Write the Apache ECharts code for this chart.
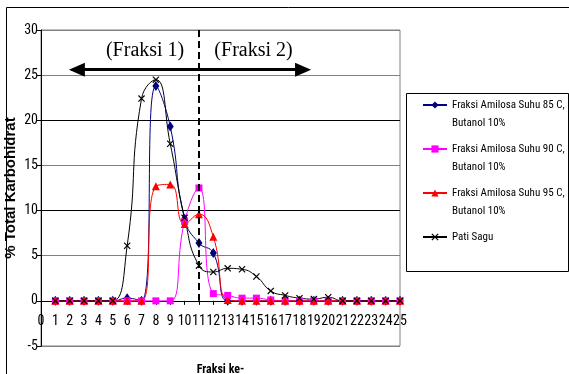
<!DOCTYPE html>
<html>
<head>
<meta charset="utf-8">
<script src="https://cdn.jsdelivr.net/npm/echarts@6/dist/echarts.min.js"></script>
<style>
  html, body { margin: 0; padding: 0; background: #fff; }
  #chart { width: 569px; height: 374px; }
</style>
</head>
<body>
<div id="chart"></div>
<script>
// Fraction number (x axis)
const fraksi = [1, 2, 3, 4, 5, 6, 7, 8, 9, 10, 11, 12, 13, 14, 15, 16, 17, 18, 19, 20, 21, 22, 23, 24, 25];

// % total carbohydrate per fraction
const amilosa85 = [0, 0, 0, 0, 0, 0.3, 0, 23.8, 19.3, 9.1, 6.4, 5.3, 0, 0, 0, 0, 0, 0, 0, 0, 0, 0, 0, 0, 0];
const amilosa90 = [0, 0, 0, 0, 0, 0, 0, 0, 0, 8.8, 12.5, 0.8, 0.6, 0.3, 0.3, 0.1, 0, 0, 0, 0, 0, 0, 0, 0, 0];
const amilosa95 = [0, 0, 0, 0, 0, 0, 0, 12.7, 12.9, 8.5, 9.6, 7.1, 0.1, 0, 0, 0, 0, 0, 0, 0, 0, 0, 0, 0, 0];
const patiSagu  = [0, 0, 0, 0, 0, 6.1, 22.4, 24.5, 17.4, 9.2, 3.9, 3.2, 3.6, 3.5, 2.7, 1.1, 0.6, 0.3, 0.2, 0.4, 0, 0, 0, 0, 0];

const seriesNames = [
  'Fraksi Amilosa Suhu 85 C, Butanol 10%',
  'Fraksi Amilosa Suhu 90 C, Butanol 10%',
  'Fraksi Amilosa Suhu 95 C, Butanol 10%',
  'Pati Sagu'
];
// Legend text: the blank first line keeps the key symbol beside the first text line
const legendLines = [
  '\nFraksi Amilosa Suhu 85 C,\nButanol 10%',
  '\nFraksi Amilosa Suhu 90 C,\nButanol 10%',
  '\nFraksi Amilosa Suhu 95 C,\nButanol 10%',
  '\nPati Sagu\n '
];

// Axis ranges
const xRange = [0, 25, 1];
const yRange = [-5, 30, 5];

// Fraction boundary and range annotations (data units)
const boundaryX = 11;
const boundaryTop = 30;
const arrowY = 25.6;
const arrowFrom = 2.5;
const arrowTo = 18.25;
const fraksiLabels = [
  { text: '(Fraksi 1)', x: 7.25, y: 27.65 },
  { text: '(Fraksi 2)', x: 14.8, y: 27.65 }
];

// Plot frame (pixels)
const W = 569, H = 374;
const gridBox = { left: 41, right: 169, top: 30, bottom: 28 };
const plotH = H - gridBox.top - gridBox.bottom;
// the x axis runs along y = 0
const xAxisOffset = -((0 - yRange[0]) / (yRange[1] - yRange[0])) * plotH;

const sans = '"Liberation Sans", Arial, sans-serif';
const narrow = '"Roboto Condensed", "Open Sans Condensed", "DejaVu Sans Condensed", sans-serif';
const xMark = 'path://M0,1.2 L1.2,0 L10,8.8 L8.8,10 Z M8.8,0 L10,1.2 L1.2,10 L0,8.8 Z';

const pairs = arr => arr.map((v, i) => [fraksi[i], v]);

const chart = echarts.init(document.getElementById('chart'), null, { renderer: 'canvas' });

chart.setOption({
  animation: false,
  backgroundColor: '#fff',
  grid: {
    left: gridBox.left, right: gridBox.right, top: gridBox.top, bottom: gridBox.bottom,
    containLabel: false,
    outerBoundsMode: 'none',
    show: true, borderColor: '#808080', borderWidth: 1
  },
  xAxis: {
    type: 'value',
    position: 'bottom',
    offset: xAxisOffset,
    min: xRange[0], max: xRange[1], interval: xRange[2],
    axisLine: { onZero: false, lineStyle: { color: '#000', width: 1 } },
    axisTick: { show: true, length: 4, lineStyle: { color: '#000' } },
    axisLabel: {
      margin: 14, color: '#000', fontFamily: narrow, fontSize: 14,
      showMinLabel: true, showMaxLabel: true, hideOverlap: false
    },
    splitLine: { show: false },
    name: 'Fraksi ke-',
    nameLocation: 'middle',
    nameGap: 63,
    nameMoveOverlap: false,
    nameTextStyle: { color: '#000', fontFamily: narrow, fontWeight: 'bold', fontSize: 12 }
  },
  yAxis: {
    type: 'value',
    min: yRange[0], max: yRange[1], interval: yRange[2],
    axisLine: { show: true, onZero: false, lineStyle: { color: '#000', width: 1 } },
    axisTick: { show: true, length: 4, lineStyle: { color: '#000' } },
    axisLabel: {
      margin: 3, color: '#000', fontFamily: narrow, fontSize: 14,
      showMinLabel: true, showMaxLabel: true
    },
    splitLine: {
      show: true,
      lineStyle: { color: ['#808080', '#000', '#808080', '#000', '#808080', '#000', '#808080', '#808080'], width: 1 }
    },
    name: '% Total Karbohidrat',
    nameLocation: 'middle',
    nameRotate: 90,
    nameGap: 23,
    nameMoveOverlap: false,
    nameTextStyle: { color: '#000', fontFamily: sans, fontWeight: 'bold', fontSize: 15 }
  },
  legend: {
    orient: 'vertical',
    left: 406, top: 78,
    padding: [0, 0, 0, 16],
    itemGap: -10,
    itemWidth: 24,
    itemHeight: 9,
    textStyle: { color: '#000', fontFamily: narrow, fontSize: 11, lineHeight: 18 },
    formatter: name => legendLines[seriesNames.indexOf(name)],
    data: seriesNames
  },
  graphic: [
    { type: 'rect', silent: true, z: -1, shape: { x: 6.5, y: 7.5, width: 700, height: 500 },
      style: { fill: 'none', stroke: '#000', lineWidth: 1 } },
    { type: 'rect', silent: true, shape: { x: 406.5, y: 93.5, width: 162, height: 178 },
      style: { fill: 'none', stroke: '#000', lineWidth: 1 } }
  ],
  series: [
    {
      name: seriesNames[0], type: 'line', smooth: true, data: pairs(amilosa85),
      symbol: 'diamond', symbolSize: [7, 10],
      itemStyle: { color: '#000080' }, lineStyle: { color: '#000080', width: 1 }
    },
    {
      name: seriesNames[1], type: 'line', smooth: true, data: pairs(amilosa90),
      symbol: 'rect', symbolSize: 7,
      itemStyle: { color: '#FF00FF' }, lineStyle: { color: '#FF00FF', width: 1 }
    },
    {
      name: seriesNames[2], type: 'line', smooth: true, data: pairs(amilosa95),
      symbol: 'triangle', symbolSize: 8,
      itemStyle: { color: '#FF0000' }, lineStyle: { color: '#FF0000', width: 1 }
    },
    {
      name: seriesNames[3], type: 'line', smooth: true, data: pairs(patiSagu),
      symbol: xMark, symbolSize: 7,
      itemStyle: { color: '#000' }, lineStyle: { color: '#000', width: 1 },
      markLine: {
        silent: true,
        animation: false,
        label: { show: false },
        symbol: ['none', 'none'],
        data: [
          [
            { coord: [boundaryX, boundaryTop], lineStyle: { type: [7, 4], width: 2, color: '#000' } },
            { coord: [boundaryX, 0] }
          ],
          [
            { coord: [arrowFrom, arrowY], symbol: 'triangle', symbolSize: [14, 16], lineStyle: { type: 'solid', width: 3, color: '#000' } },
            { coord: [arrowTo, arrowY], symbol: 'triangle', symbolSize: [14, 16] }
          ]
        ]
      },
      markPoint: {
        silent: true,
        symbol: 'rect',
        symbolSize: 1,
        itemStyle: { color: 'rgba(0,0,0,0)' },
        label: {
          show: true, position: 'inside', color: '#000',
          fontFamily: '"Liberation Serif", "Times New Roman", serif', fontSize: 20
        },
        data: fraksiLabels.map(l => ({ coord: [l.x, l.y], value: l.text, label: { formatter: l.text } }))
      }
    }
  ]
});
</script>
</body>
</html>
